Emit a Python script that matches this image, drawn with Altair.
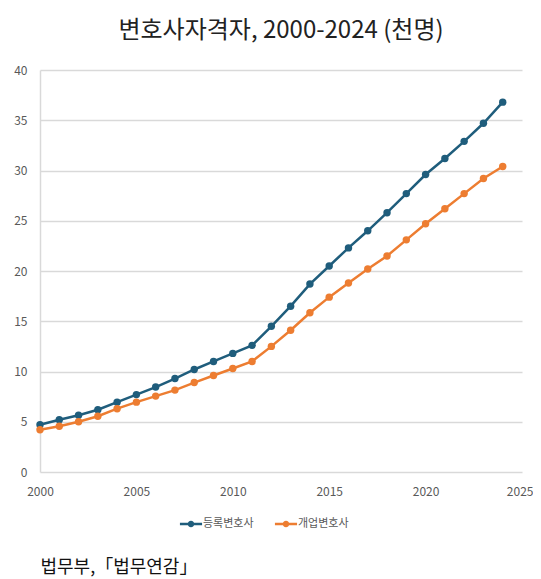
import altair as alt
import pandas as pd

years = list(range(2000, 2025))
registered = [4.7, 5.2, 5.65, 6.2, 6.95, 7.7, 8.45, 9.3, 10.2, 11.0, 11.8, 12.6,
              14.5, 16.5, 18.7, 20.5, 22.3, 24.0, 25.8, 27.7, 29.6, 31.2, 32.9, 34.7, 36.8]
practicing = [4.2, 4.55, 5.0, 5.55, 6.3, 6.95, 7.55, 8.15, 8.9, 9.6, 10.3, 11.0,
              12.5, 14.1, 15.85, 17.4, 18.8, 20.2, 21.5, 23.1, 24.7, 26.2, 27.7, 29.2, 30.4]
series = ["등록변호사", "개업변호사"]
colors = ["#1f5d7c", "#ed7d31"]

df = pd.concat([
    pd.DataFrame({"year": years, "value": registered, "series": series[0]}),
    pd.DataFrame({"year": years, "value": practicing, "series": series[1]}),
])

FONT = "Noto Sans CJK KR"

symbol_path = ("M-1.4,-0.15L1.4,-0.15L1.4,0.15L-1.4,0.15Z"
               "M0.42,0A0.42,0.42 0 1,1 -0.42,0A0.42,0.42 0 1,1 0.42,0Z")

base = alt.Chart(df).encode(
    x=alt.X("year:Q",
            scale=alt.Scale(domain=[2000, 2025], nice=False, zero=False),
            axis=alt.Axis(values=[2000, 2005, 2010, 2015, 2020, 2025], format="d",
                          grid=False, domain=False, ticks=False, labelFlush=False,
                          labelAlign={"condition": {"test": "datum.value == 2025", "value": "right"},
                                      "value": "center"},
                          labelOffset={"condition": {"test": "datum.value == 2025", "value": 11},
                                       "value": 0},
                          labelPadding=14, labelFontSize=12, labelColor="#595959",
                          labelFont=FONT,
                          title="법무부,「법무연감」", titleFont=FONT, titleFontSize=18,
                          titleFontWeight="normal", titleColor="#111111",
                          titleAnchor="start", titleAlign="left",
                          titleX=0, titleY=86)),
    y=alt.Y("value:Q",
            scale=alt.Scale(domain=[0, 40], nice=False),
            axis=alt.Axis(values=[0, 5, 10, 15, 20, 25, 30, 35, 40],
                          grid=True, gridColor="#d9d9d9", gridWidth=1.5,
                          domain=True, domainColor="#d9d9d9", domainWidth=1.5,
                          ticks=False, labelPadding=13, labelFontSize=12,
                          labelColor="#595959", labelFont=FONT, title=None)),
    color=alt.Color("series:N",
                    scale=alt.Scale(domain=series, range=colors),
                    legend=alt.Legend(title=None, orient="none", direction="horizontal",
                                      legendX=143, legendY=446,
                                      symbolType=symbol_path, symbolSize=250,
                                      symbolStrokeWidth=0,
                                      labelFont=FONT, labelFontSize=11,
                                      labelColor="#595959", columnPadding=20,
                                      labelOffset=4)),
)

lines = base.mark_line(strokeWidth=2.5)
points = base.mark_point(filled=True, size=55, opacity=1)

chart = alt.layer(lines, points).properties(
    width=482,
    height=402,
    autosize=alt.AutoSizeParams(type="none"),
    padding={"left": 32, "top": 62, "right": 11, "bottom": 106},
    title=alt.Title("변호사자격자, 2000-2024 (천명)", font=FONT, fontSize=24,
                    fontWeight="normal", color="#222222", anchor="middle", offset=21),
).configure_view(stroke=None)

chart.save("out.html", embed_options={"renderer": "svg", "actions": False})
